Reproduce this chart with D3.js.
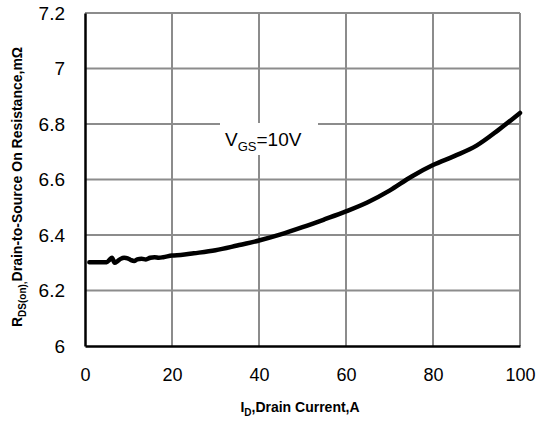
<!DOCTYPE html>
<html>
<head>
<meta charset="utf-8">
<script src="https://cdn.jsdelivr.net/npm/d3@7"></script>
<style>
  body { margin: 0; background: #fff; }
  text { font-family: "Liberation Sans", Arial, sans-serif; }
</style>
</head>
<body>
<div id="chart"></div>
<script>
let width = 538, height = 421;
let margin = {top: 13, right: 18, bottom: 75, left: 85};

// drain current, A
let current = [1, 3, 5, 5.6, 6.2, 6.8, 7.5, 8.2, 9, 9.8, 10.5, 11.3, 12, 13, 14, 15, 16, 17, 18, 20,
    22, 25, 30, 35, 40, 45, 50, 55, 60, 65, 70, 75, 80, 85, 90, 95, 100];
// RDS(on), mOhm
let resistance = [6.302, 6.302, 6.302, 6.310, 6.318, 6.300, 6.306, 6.314, 6.318, 6.316, 6.310, 6.306, 6.312, 6.314, 6.312, 6.318, 6.320, 6.318, 6.320, 6.326,
    6.328, 6.334, 6.345, 6.362, 6.380, 6.402, 6.428, 6.456, 6.485, 6.518, 6.560, 6.610, 6.652, 6.685, 6.722, 6.778, 6.840];

let xTicks = [0, 20, 40, 60, 80, 100];
let yTicks = [6, 6.2, 6.4, 6.6, 6.8, 7, 7.2];

let x = d3.scaleLinear().domain([0, 100]).range([margin.left, width - margin.right]);
let y = d3.scaleLinear().domain([6, 7.2]).range([height - margin.bottom, margin.top]);

let svg = d3.select("#chart").append("svg")
    .attr("width", width)
    .attr("height", height);

// grid
svg.append("g")
    .selectAll("line")
    .data(xTicks.slice(1))
    .enter().append("line")
    .attr("x1", d => x(d)).attr("x2", d => x(d))
    .attr("y1", y(6)).attr("y2", y(7.2))
    .attr("stroke", "#8c8c8c").attr("stroke-width", 2);

svg.append("g")
    .selectAll("line")
    .data(yTicks.slice(1))
    .enter().append("line")
    .attr("x1", x(0)).attr("x2", x(100))
    .attr("y1", d => y(d)).attr("y2", d => y(d))
    .attr("stroke", "#8c8c8c").attr("stroke-width", 2);

// axes
let xAxis = svg.append("g")
    .attr("transform", `translate(0,${y(6)})`)
    .call(d3.axisBottom(x).tickValues(xTicks).tickSize(0).tickPadding(22).tickFormat(d3.format("d")));
xAxis.select(".domain").attr("stroke", "#000").attr("stroke-width", 2.5);
xAxis.selectAll("text").attr("font-size", 18).attr("fill", "#000")
    .style("font-family", "'Liberation Sans', Arial, sans-serif");

let yAxis = svg.append("g")
    .attr("transform", `translate(${x(0)},0)`)
    .call(d3.axisLeft(y).tickValues(yTicks).tickSize(0).tickPadding(20).tickFormat(d => d3.format("")(+d.toFixed(1))));
yAxis.select(".domain").attr("stroke", "#000").attr("stroke-width", 2.5);
yAxis.selectAll("text").attr("font-size", 19).attr("fill", "#000")
    .style("font-family", "'Liberation Sans', Arial, sans-serif");

// annotation
svg.append("rect")
    .attr("x", 220).attr("y", 123)
    .attr("width", 98).attr("height", 32)
    .attr("fill", "#fff");

let note = svg.append("text")
    .attr("x", 225).attr("y", 146)
    .attr("font-size", 19);
note.append("tspan").text("V");
note.append("tspan").attr("font-size", 13).attr("dy", 5).text("GS");
note.append("tspan").attr("dy", -5).text("=10V");

// curve
let line = d3.line()
    .x((d, i) => x(current[i]))
    .y(d => y(d))
    .curve(d3.curveMonotoneX);

svg.append("path")
    .datum(resistance)
    .attr("d", line)
    .attr("fill", "none")
    .attr("stroke", "#000")
    .attr("stroke-width", 4.5)
    .attr("stroke-linejoin", "round")
    .attr("stroke-linecap", "round");

// axis titles
let xTitle = svg.append("text")
    .attr("x", 300).attr("y", 412)
    .attr("text-anchor", "middle")
    .attr("font-size", 14).attr("font-weight", "bold");
xTitle.append("tspan").text("I");
xTitle.append("tspan").attr("font-size", 10).attr("dy", 4).text("D");
xTitle.append("tspan").attr("dy", -4).text(",Drain Current,A");

let yTitle = svg.append("text")
    .attr("transform", "translate(22,187) rotate(-90)")
    .attr("text-anchor", "middle")
    .attr("font-size", 14).attr("font-weight", "bold");
yTitle.append("tspan").text("R");
yTitle.append("tspan").attr("font-size", 10).attr("dy", 4).text("DS(on),");
yTitle.append("tspan").attr("dy", -4).text("Drain-to-Source On Resistance,mΩ");
</script>
</body>
</html>
